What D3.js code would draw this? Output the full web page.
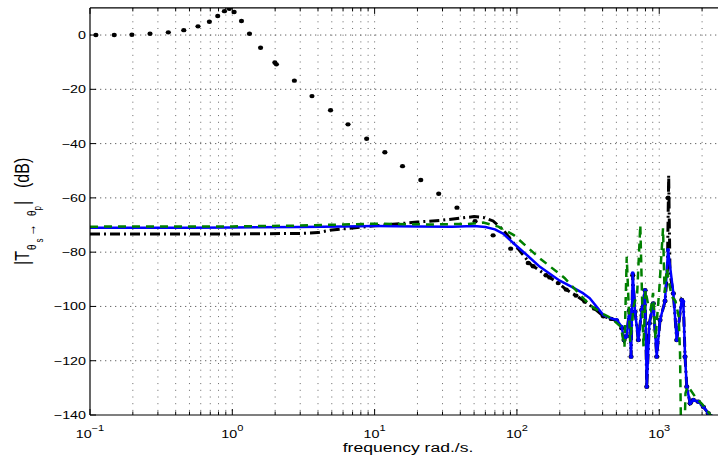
<!DOCTYPE html>
<html>
<head>
<meta charset="utf-8">
<script src="https://cdn.jsdelivr.net/npm/d3@7"></script>
<style>
body { margin: 0; background: #fff; }
svg { display: block; font-family: "Liberation Sans", Arial, Helvetica, sans-serif; }
</style>
</head>
<body>
<div id="chart"></div>
<script>
// blue solid
var blueFreq = [0.1, 0.5, 1, 3, 6, 10, 20, 35, 50, 60, 70, 80, 95, 120, 145, 200, 241, 293, 325, 405,
    460, 503, 545, 566, 590, 617, 634, 651, 676, 713, 753, 795, 817, 852, 909, 960, 1013, 1098, 1153, 1257,
    1327, 1439, 1477, 1518, 1561, 1647, 1737, 1883, 2041, 2214, 2330];
var blueMag = [-71.0, -71.0, -70.9, -70.7, -70.5, -70.4, -70.5, -70.6, -70.4, -70.7, -71.6, -73.2, -76.8, -81.5, -85.4, -90.5, -92.7, -95.2, -97.0, -103.2,
    -104.4, -105.0, -107.5, -112.4, -111.0, -101.3, -118.5, -87.8, -102.0, -112.4, -101.3, -94.0, -129.6, -106.2, -98.9, -118.5, -105.0, -98.0, -79.2, -95.2,
    -112.4, -97.6, -98.3, -118.5, -129.6, -135.7, -134.5, -135.1, -137.0, -139.4, -140.5];

// black dash-dot
var blackFreq = [0.1, 1, 3, 4, 5, 7, 10, 15, 20, 29, 41, 50, 58, 68, 80, 96, 125, 165, 195, 222,
    260, 300, 350, 405, 460, 503, 545, 566, 590, 617, 634, 651, 676, 713, 753, 795, 817, 852, 909, 960,
    1013, 1098, 1140, 1165, 1190, 1257, 1327, 1439, 1477, 1518, 1561, 1647, 1737, 1883, 2041, 2214, 2330];
var blackMag = [-73.3, -73.3, -73.1, -72.8, -71.8, -71.1, -70.3, -69.5, -68.9, -68.3, -67.4, -66.9, -67.2, -68.5, -71.8, -77.0, -84.5, -88.9, -91.4, -93.8,
    -96.0, -98.2, -100.8, -103.6, -104.6, -105.3, -108.0, -112.4, -111.0, -101.5, -118.5, -88.5, -102.0, -112.4, -101.3, -94.0, -129.6, -106.2, -98.9, -118.5,
    -105.0, -98.0, -88.0, -51.6, -88.0, -95.2, -112.4, -97.6, -98.3, -118.5, -129.6, -135.7, -134.5, -135.1, -137.0, -139.4, -140.5];

// green dashed
var greenFreq = [0.1, 1, 3, 6, 10, 24, 45, 58, 74, 95, 145, 216, 325, 405, 462, 537, 570, 591, 610, 625,
    660, 700, 736, 760, 775, 800, 840, 870, 905, 940, 980, 1000, 1063, 1090, 1130, 1180, 1225, 1300, 1370, 1400,
    1425, 1500, 1529, 1580, 1660, 1800, 2000, 2330];
var greenMag = [-70.6, -70.5, -70.2, -69.8, -69.5, -69.8, -69.6, -69.1, -70.6, -73.7, -82.3, -89.5, -99.5, -102.8, -104.4, -107.5, -114.8, -81.7, -100, -113,
    -100, -95, -70, -100, -114.8, -94, -100, -101.3, -95, -112, -100, -94, -71.2, -95, -86, -92, -96.4, -98, -103.8, -117.3,
    -150, -150, -132, -129.5, -130.8, -133.5, -136, -140.5];

// black dots
var dotFreq = [0.110, 0.148, 0.197, 0.264, 0.355, 0.456, 0.574, 0.69, 0.79, 0.88, 0.953, 1.03, 1.16, 1.32, 1.58,
    1.99, 2.04, 2.73, 3.63, 4.9, 6.5, 8.79, 11.8, 15.7, 21.1, 28.2, 37.9, 50.8, 68, 90.4,
    120, 130, 160, 170, 195, 222, 260, 300, 350, 405, 460, 503, 545, 566, 590,
    617, 634, 651, 676, 713, 753, 795, 817, 852, 909, 960, 1013, 1098, 1153, 1257,
    1327, 1439, 1518, 1561, 1647, 1737, 1883, 2041, 2214];
var dotMag = [0, 0, 0.1, 0.5, 1, 1.8, 3.2, 4.9, 7.0, 8.8, 9.7, 8.5, 5.2, 0.5, -4.7,
    -10.1, -10.8, -16.8, -22.5, -27.7, -32.9, -38.2, -43.2, -48.3, -53.4, -58.5, -63.6, -68.6, -73.8, -78.7,
    -84, -85.2, -88.5, -89.3, -91.4, -93.8, -96, -98.2, -100.8, -103.6, -104.6, -105.3, -108, -112.4, -111,
    -101.5, -118.5, -88.5, -102, -112.4, -101.3, -94, -129.6, -106.2, -98.9, -118.5, -105, -98, -60, -95.2,
    -112.4, -97.6, -118.5, -129.6, -135.7, -134.5, -135.1, -137, -139.4];

var yTicks = [-140, -120, -100, -80, -60, -40, -20, 0];
var xDecades = [-1, 0, 1, 2, 3];

var W = 718, H = 466;
var pLeft = 90, pRight = 718.3, pTop = 7.9, pBottom = 415;
var sx = 1.3; // text looks stretched sideways in the picture

var x = d3.scaleLog().domain([0.1, 2600]).range([pLeft, pRight]);
var y = d3.scaleLinear().domain([-140, 10]).range([pBottom, pTop]);

var svg = d3.select("#chart").append("svg")
    .attr("width", W)
    .attr("height", H);

svg.append("rect").attr("width", W).attr("height", H).attr("fill", "#fff");

svg.append("clipPath").attr("id", "plotclip")
    .append("rect")
    .attr("x", pLeft).attr("y", pTop)
    .attr("width", pRight - pLeft).attr("height", pBottom - pTop);

// minor + major x values
var xGrid = [];
xDecades.forEach(function(e) {
    for (var m = 1; m <= 9; m++) {
        var v = m * Math.pow(10, e);
        if (v <= 2600) xGrid.push({v: v, major: m == 1});
    }
});

//grid
var grid = svg.append("g");
grid.selectAll("line.vg")
    .data(xGrid.filter(function(d) { return d.v > 0.1; }))
    .join("line")
    .attr("class", "vg")
    .attr("x1", function(d) { return x(d.v); })
    .attr("x2", function(d) { return x(d.v); })
    .attr("y1", pTop)
    .attr("y2", pBottom)
    .attr("stroke", "#555")
    .attr("stroke-width", 0.9)
    .attr("stroke-dasharray", "1,5.7");

grid.selectAll("line.hg")
    .data(yTicks.filter(function(d) { return d > -140; }))
    .join("line")
    .attr("class", "hg")
    .attr("x1", pLeft)
    .attr("x2", pRight)
    .attr("y1", function(d) { return y(d); })
    .attr("y2", function(d) { return y(d); })
    .attr("stroke", "#555")
    .attr("stroke-width", 0.9)
    .attr("stroke-dasharray", "1.3,3.7");

//data
var plot = svg.append("g").attr("clip-path", "url(#plotclip)");
var line = d3.line()
    .x(function(d) { return x(d[0]); })
    .y(function(d) { return y(d[1]); });

function pairs(f, m) {
    return f.map(function(v, i) { return [v, m[i]]; });
}

plot.selectAll("ellipse.dot")
    .data(pairs(dotFreq, dotMag))
    .join("ellipse")
    .attr("class", "dot")
    .attr("cx", function(d) { return x(d[0]); })
    .attr("cy", function(d) { return y(d[1]); })
    .attr("rx", 2.6)
    .attr("ry", 2.2)
    .attr("fill", "#000");

plot.append("path")
    .datum(pairs(blackFreq, blackMag))
    .attr("d", line)
    .attr("fill", "none")
    .attr("stroke", "#000")
    .attr("stroke-width", 3)
    .attr("stroke-dasharray", "10,4,2,4");

plot.append("path")
    .datum(pairs(blueFreq, blueMag))
    .attr("d", line)
    .attr("fill", "none")
    .attr("stroke", "#0000ff")
    .attr("stroke-width", 2.5)
    .attr("stroke-linejoin", "round");

plot.selectAll("circle.bdot")
    .data(pairs(blueFreq, blueMag).filter(function(d) { return d[0] > 500; }))
    .join("circle")
    .attr("class", "bdot")
    .attr("cx", function(d) { return x(d[0]); })
    .attr("cy", function(d) { return y(d[1]); })
    .attr("r", 2)
    .attr("fill", "#0000ff");

plot.append("path")
    .datum(pairs(greenFreq, greenMag))
    .attr("d", line)
    .attr("fill", "none")
    .attr("stroke", "#008000")
    .attr("stroke-width", 2.5)
    .attr("stroke-dasharray", "8,6");

//axes box
var ax = svg.append("g").attr("stroke", "#000").attr("stroke-width", 1.2);
ax.append("line").attr("x1", pLeft).attr("x2", pRight).attr("y1", pTop).attr("y2", pTop);
ax.append("line").attr("x1", pLeft).attr("x2", pRight).attr("y1", pBottom).attr("y2", pBottom);
ax.append("line").attr("x1", pLeft).attr("x2", pLeft).attr("y1", pTop).attr("y2", pBottom);

//x ticks top and bottom, inward
var ticks = svg.append("g").attr("stroke", "#000").attr("stroke-width", 1);
ticks.selectAll("line.xb")
    .data(xGrid)
    .join("line")
    .attr("class", "xb")
    .attr("x1", function(d) { return x(d.v); })
    .attr("x2", function(d) { return x(d.v); })
    .attr("y1", pBottom)
    .attr("y2", function(d) { return pBottom - (d.major ? 6 : 3.5); });
ticks.selectAll("line.xt")
    .data(xGrid)
    .join("line")
    .attr("class", "xt")
    .attr("x1", function(d) { return x(d.v); })
    .attr("x2", function(d) { return x(d.v); })
    .attr("y1", pTop)
    .attr("y2", function(d) { return pTop + (d.major ? 6 : 3.5); });
ticks.selectAll("line.yl")
    .data(yTicks)
    .join("line")
    .attr("class", "yl")
    .attr("x1", pLeft)
    .attr("x2", pLeft + 6)
    .attr("y1", function(d) { return y(d); })
    .attr("y2", function(d) { return y(d); });

//tick labels
svg.append("g").selectAll("text")
    .data(yTicks)
    .join("text")
    .attr("transform", function(d) { return "translate(86," + (y(d) + 4) + ") scale(" + sx + ",1)"; })
    .attr("text-anchor", "end")
    .attr("font-size", 11)
    .text(function(d) { return d < 0 ? "\u2212" + (-d) : d; });

var xl = svg.append("g").selectAll("text")
    .data(xDecades)
    .join("text")
    .attr("transform", function(d) { return "translate(" + x(Math.pow(10, d)) + ",438) scale(" + sx + ",1)"; })
    .attr("text-anchor", "middle")
    .attr("font-size", 11);
xl.append("tspan").text("10");
xl.append("tspan")
    .attr("dy", -7)
    .attr("font-size", 8.5)
    .text(function(d) { return d < 0 ? "\u2212" + (-d) : d; });

//x label
svg.append("text")
    .attr("transform", "translate(408,452) scale(" + sx + ",1)")
    .attr("text-anchor", "middle")
    .attr("font-size", 13.5)
    .text("frequency rad./s.");

//y label, pieces placed by hand
var ylab = [
    {t: "|T", x: 29, y: 265, s: 16},
    {t: "\u03b8", x: 36, y: 250, s: 10},
    {t: "s", x: 42.5, y: 242.5, s: 8},
    {t: "\u2192", x: 35.5, y: 236, s: 12},
    {t: "\u03b8", x: 35.5, y: 216, s: 10},
    {t: "p", x: 41, y: 210.5, s: 8},
    {t: "|", x: 29, y: 205, s: 16},
    {t: "(dB)", x: 29, y: 188, s: 16}
];
svg.append("g").selectAll("text")
    .data(ylab)
    .join("text")
    .attr("transform", function(d) { return "translate(" + d.x + "," + d.y + ") scale(" + sx + ",1) rotate(-90)"; })
    .attr("font-size", function(d) { return d.s; })
    .text(function(d) { return d.t; });
</script>
</body>
</html>
